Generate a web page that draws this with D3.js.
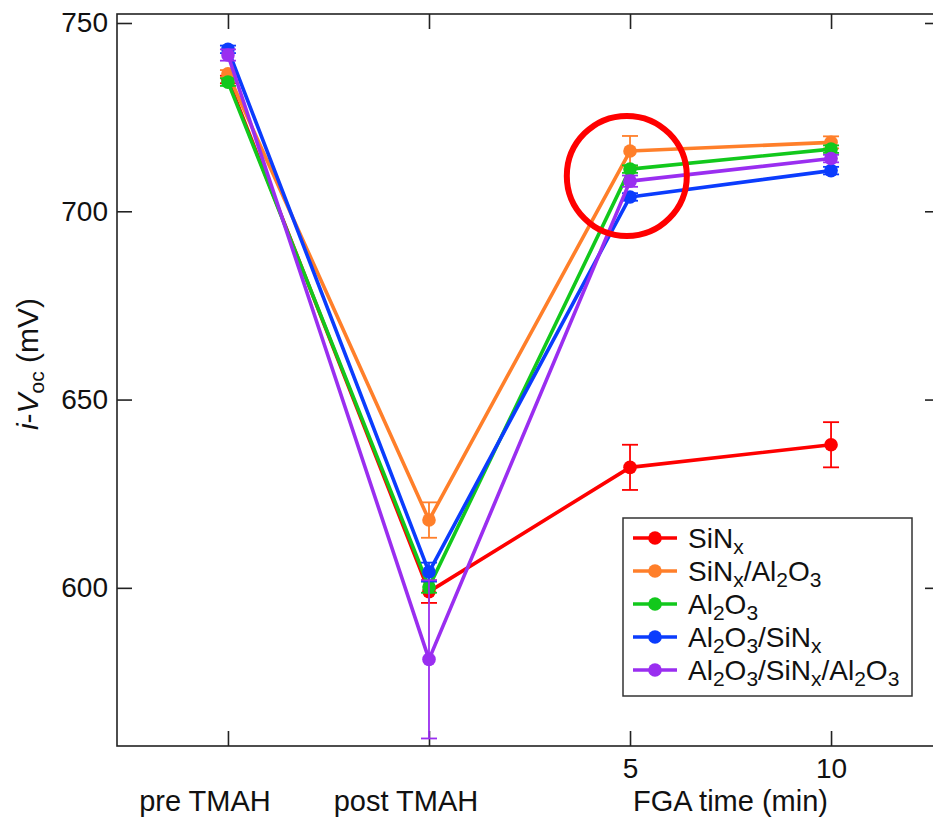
<!DOCTYPE html>
<html><head><meta charset="utf-8">
<script src="https://cdn.jsdelivr.net/npm/d3@7"></script>
<style>body{margin:0;background:#fff}svg text{font-family:"Liberation Sans",Arial,Helvetica,sans-serif;fill:#111}</style>
</head><body><svg id="c" width="933" height="821"></svg>
<script>
// ---- data ----
const xPositions = [-5, 0, 5, 10];
const xCategoryLabels = ["pre TMAH", "post TMAH"];
const xNumericLabels = ["5", "10"];
const yTicks = [600, 650, 700, 750];
const seriesNames = ["SiN_x", "SiN_x/Al_2O_3", "Al_2O_3", "Al_2O_3/SiN_x", "Al_2O_3/SiN_x/Al_2O_3"];
const seriesColors = ["#fe0000", "#ff7f2a", "#12c81c", "#0b3cfd", "#9a2ef0"];
const sinx        = [735.0, 599.0, 632.0, 638.0];
const sinxErr     = [1.0, 3.0, 6.0, 6.0];
const sinxAl2o3   = [736.5, 618.0, 716.0, 718.3];
const sinxAl2o3Err= [1.0, 4.7, 4.0, 1.6];
const al2o3       = [734.3, 600.2, 711.2, 716.5];
const al2o3Err    = [1.0, 1.5, 1.0, 1.0];
const al2o3Sinx   = [743.0, 604.2, 703.8, 710.8];
const al2o3SinxErr= [1.0, 2.5, 1.0, 1.0];
const triple      = [741.5, 581.0, 708.0, 714.0];
const tripleErr   = [1.5, 21.0, 1.5, 1.0];
const seriesValues = [sinx, sinxAl2o3, al2o3, al2o3Sinx, triple];
const seriesErrors = [sinxErr, sinxAl2o3Err, al2o3Err, al2o3SinxErr, tripleErr];
const highlight = {x: 4.92, y: 709.4};

// ---- chart ----
const svg = d3.select("#c");
const x = d3.scaleLinear().domain([-7.76, 12.71]).range([117, 940]);
const y = d3.scaleLinear().domain([558.0, 752.39]).range([746, 14]);
const axisColor = "#222";

svg.append("rect").attr("x", 117).attr("y", 14).attr("width", 823).attr("height", 732)
  .attr("fill", "none").attr("stroke", axisColor).attr("stroke-width", 1.6);

function styleAxis(g){
  g.select(".domain").remove();
  g.selectAll(".tick line").attr("stroke", axisColor).attr("stroke-width", 1.6);
  g.selectAll(".tick text").style("font-size", "28px").attr("fill", "#111");
}
svg.append("g").attr("transform", "translate(117,0)")
  .call(d3.axisLeft(y).tickValues(yTicks).tickSize(-15).tickPadding(9).tickFormat(d3.format("d")))
  .call(styleAxis);
svg.append("g").attr("transform", "translate(940,0)")
  .call(d3.axisRight(y).tickValues(yTicks).tickSize(-15).tickFormat(""))
  .call(styleAxis);
svg.append("g").attr("transform", "translate(0,746)")
  .call(d3.axisBottom(x).tickValues(xPositions).tickSize(-15).tickPadding(12)
    .tickFormat((d, i) => i >= 2 ? xNumericLabels[i - 2] : ""))
  .call(styleAxis);
svg.append("g").attr("transform", "translate(0,14)")
  .call(d3.axisTop(x).tickValues(xPositions).tickSize(-15).tickFormat(""))
  .call(styleAxis);

xCategoryLabels.forEach((t, i) => {
  svg.append("text").attr("x", x(xPositions[i]) - 23).attr("y", 811)
    .attr("text-anchor", "middle").style("font-size", "29px").text(t);
});
svg.append("text").attr("x", x(7.5)).attr("y", 811)
  .attr("text-anchor", "middle").style("font-size", "29px").text("FGA time (min)");

// y title
const yt = svg.append("text").attr("transform", "translate(38,364) rotate(-90)")
  .attr("text-anchor", "middle").style("font-size", "30px");
yt.append("tspan").style("font-style", "italic").text("i");
yt.append("tspan").text("-");
yt.append("tspan").style("font-style", "italic").text("V");
yt.append("tspan").attr("baseline-shift", "-0.28em").style("font-size", "21px").text("oc");
yt.append("tspan").text(" (mV)");

// series
const line = d3.line().x((d, i) => x(xPositions[i])).y(d => y(d));
seriesValues.forEach((vals, s) => {
  const c = seriesColors[s];
  const g = svg.append("g");
  const errs = seriesErrors[s];
  vals.forEach((v, i) => {
    const cx = x(xPositions[i]);
    g.append("line").attr("x1", cx).attr("x2", cx).attr("y1", y(v - errs[i])).attr("y2", y(v + errs[i]))
      .attr("stroke", c).attr("stroke-width", 1.8);
    [v - errs[i], v + errs[i]].forEach(e => {
      g.append("line").attr("x1", cx - 8).attr("x2", cx + 8).attr("y1", y(e)).attr("y2", y(e))
        .attr("stroke", c).attr("stroke-width", 1.8);
    });
  });
  g.append("path").datum(vals).attr("d", line).attr("fill", "none")
    .attr("stroke", c).attr("stroke-width", 3.6).attr("stroke-linejoin", "round");
  g.selectAll("circle").data(vals).enter().append("circle")
    .attr("cx", (d, i) => x(xPositions[i])).attr("cy", d => y(d)).attr("r", 6.8).attr("fill", c);
});

// highlight circle
svg.append("circle").attr("cx", x(highlight.x)).attr("cy", y(highlight.y)).attr("r", 60)
  .attr("fill", "none").attr("stroke", "#f00").attr("stroke-width", 6);

// legend
const lg = svg.append("g");
lg.append("rect").attr("x", 623).attr("y", 518).attr("width", 289).attr("height", 178)
  .attr("fill", "#fff").attr("stroke", "#333").attr("stroke-width", 1.5);
function richText(sel, str){
  const parts = str.split(/(_.)/).filter(p => p.length);
  parts.forEach(p => {
    if (p[0] === "_") sel.append("tspan").attr("baseline-shift", "-0.3em").style("font-size", "21px").text(p[1]);
    else sel.append("tspan").text(p);
  });
}
seriesNames.forEach((n, i) => {
  const cy = 538 + i * 33;
  lg.append("line").attr("x1", 633).attr("x2", 677).attr("y1", cy).attr("y2", cy)
    .attr("stroke", seriesColors[i]).attr("stroke-width", 3.6);
  lg.append("circle").attr("cx", 655).attr("cy", cy).attr("r", 6.8).attr("fill", seriesColors[i]);
  const t = lg.append("text").attr("x", 688).attr("y", cy + 10).style("font-size", "28px");
  richText(t, n);
});
</script></body></html>
